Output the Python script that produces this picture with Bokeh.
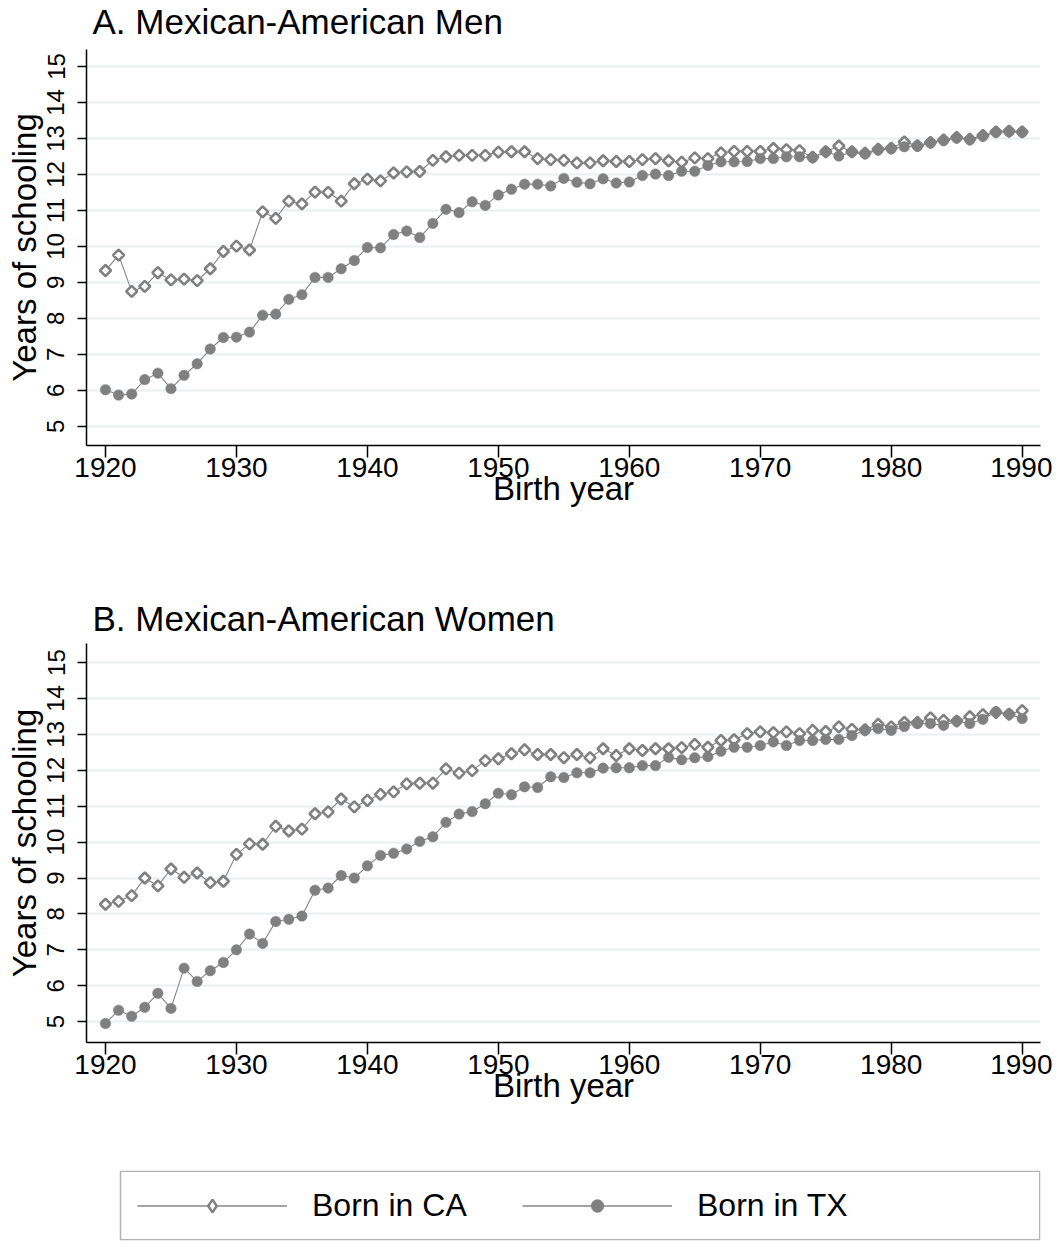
import math
from bokeh.plotting import figure
from bokeh.models import (Range1d, FixedTicker, Legend, LegendItem, ColumnDataSource,
                          BoxAnnotation, Label)
from bokeh.layouts import column
from bokeh.embed import file_html
from bokeh.resources import INLINE

# ---------------- data ----------------
years = list(range(1920, 1991))

men_ca = [9.33, 9.76, 8.75, 8.89, 9.27, 9.07, 9.09, 9.05, 9.38, 9.86,
          10.01, 9.90, 10.96, 10.78, 11.26, 11.18, 11.51, 11.50, 11.26, 11.74,
          11.87, 11.82, 12.04, 12.07, 12.08, 12.39, 12.49, 12.53, 12.53, 12.53,
          12.62, 12.63, 12.63, 12.44, 12.41, 12.39, 12.32, 12.32, 12.38, 12.36,
          12.36, 12.41, 12.44, 12.38, 12.34, 12.46, 12.44, 12.60, 12.64, 12.64,
          12.64, 12.72, 12.69, 12.66, 12.48, 12.63, 12.79, 12.63, 12.59, 12.70,
          12.73, 12.90, 12.80, 12.89, 12.96, 13.03, 12.98, 13.08, 13.18, 13.20,
          13.18]

men_tx = [6.02, 5.87, 5.90, 6.30, 6.48, 6.05, 6.42, 6.74, 7.15, 7.47,
          7.48, 7.62, 8.09, 8.12, 8.53, 8.66, 9.14, 9.14, 9.38, 9.61,
          9.97, 9.96, 10.33, 10.43, 10.25, 10.64, 11.03, 10.94, 11.24, 11.14,
          11.43, 11.59, 11.73, 11.73, 11.68, 11.89, 11.78, 11.74, 11.88, 11.76,
          11.79, 11.97, 12.01, 11.97, 12.09, 12.09, 12.25, 12.35, 12.35, 12.36,
          12.44, 12.44, 12.49, 12.49, 12.46, 12.63, 12.51, 12.62, 12.57, 12.68,
          12.71, 12.77, 12.78, 12.87, 12.94, 13.01, 12.96, 13.06, 13.17, 13.19,
          13.17]

women_ca = [8.27, 8.35, 8.51, 9.00, 8.78, 9.25, 9.02, 9.14, 8.87, 8.91,
            9.66, 9.95, 9.94, 10.44, 10.31, 10.36, 10.79, 10.84, 11.20, 10.98,
            11.16, 11.33, 11.40, 11.62, 11.64, 11.64, 12.04, 11.92, 11.99, 12.27,
            12.32, 12.46, 12.57, 12.44, 12.44, 12.35, 12.44, 12.35, 12.60, 12.41,
            12.60, 12.55, 12.60, 12.60, 12.63, 12.72, 12.64, 12.83, 12.85, 13.02,
            13.07, 13.05, 13.07, 13.02, 13.11, 13.08, 13.21, 13.14, 13.13, 13.28,
            13.21, 13.33, 13.33, 13.46, 13.39, 13.37, 13.49, 13.55, 13.61, 13.56,
            13.66]

women_tx = [4.95, 5.32, 5.15, 5.40, 5.79, 5.37, 6.49, 6.12, 6.42, 6.65,
            7.00, 7.44, 7.18, 7.79, 7.85, 7.94, 8.66, 8.72, 9.07, 9.00,
            9.34, 9.63, 9.69, 9.81, 10.02, 10.15, 10.55, 10.78, 10.85, 11.07,
            11.36, 11.32, 11.54, 11.52, 11.82, 11.80, 11.93, 11.93, 12.06, 12.07,
            12.07, 12.13, 12.13, 12.36, 12.29, 12.35, 12.38, 12.53, 12.64, 12.64,
            12.69, 12.79, 12.69, 12.83, 12.83, 12.86, 12.86, 12.97, 13.11, 13.16,
            13.11, 13.22, 13.30, 13.30, 13.25, 13.37, 13.30, 13.42, 13.63, 13.56,
            13.44]

x_ticks = [1920, 1930, 1940, 1950, 1960, 1970, 1980, 1990]
y_ticks = [5, 6, 7, 8, 9, 10, 11, 12, 13, 14, 15]
series_labels = ["Born in CA", "Born in TX"]
panel_titles = ["A. Mexican-American Men", "B. Mexican-American Women"]
x_label = "Birth year"
y_label = "Years of schooling"

# ---------------- style ----------------
FONT = "Liberation Sans"
MARK = "#808080"
LINEC = "#858585"
GRID = "#e8eff1"
W = 1052
BL, BR = 86, 12
FRAME_W = W - BL - BR


def title_strip(text, height, mid_from_bottom):
    t = figure(width=W, height=height, output_backend="svg", toolbar_location=None,
               title=None, x_range=Range1d(0, 1), y_range=Range1d(0, 1),
               x_axis_type=None, y_axis_type=None,
               min_border_left=BL, min_border_right=BR, min_border_top=0, min_border_bottom=0)
    t.outline_line_color = None
    t.add_layout(Label(x=6, y=mid_from_bottom, x_units="screen", y_units="screen",
                       text=text, text_font=FONT, text_font_size="35px",
                       text_color="black", text_baseline="middle", text_align="left"))
    return t


def styled_series(p, x, ca, tx):
    p.line(x, ca, line_color=LINEC, line_width=1.1)
    p.scatter(x, ca, marker="square", angle=math.pi / 4, size=7.8,
              fill_color="white", line_color=MARK, line_width=2.6)
    p.line(x, tx, line_color=LINEC, line_width=1.1)
    p.scatter(x, tx, marker="circle", size=10.5,
              fill_color=MARK, line_color=MARK, line_width=0.5)


def panel(ca, tx, height, bottom, y0, y1):
    p = figure(width=W, height=height, output_backend="svg", toolbar_location=None,
               title=None,
               x_range=Range1d(1918.55, 1991.4), y_range=Range1d(y0, y1),
               min_border_left=BL, min_border_right=BR,
               min_border_top=0, min_border_bottom=bottom)
    p.outline_line_color = None
    p.background_fill_color = "white"

    p.xaxis.ticker = FixedTicker(ticks=x_ticks)
    p.yaxis.ticker = FixedTicker(ticks=y_ticks)
    for ax in (p.xaxis, p.yaxis):
        ax.axis_line_color = "black"
        ax.axis_line_width = 1.5
        ax.major_tick_line_color = "black"
        ax.major_tick_line_width = 1.5
        ax.major_tick_in = 0
        ax.minor_tick_out = 0
        ax.minor_tick_in = 0
        ax.major_label_text_font = FONT
        ax.major_label_text_color = "black"
        ax.axis_label_text_font = FONT
        ax.axis_label_text_font_style = "normal"
        ax.axis_label_text_font_size = "33px"
        ax.axis_label_text_color = "black"
    p.xaxis.major_tick_out = 12
    p.xaxis.major_label_text_font_size = "28px"
    p.xaxis.major_label_standoff = 0
    p.xaxis.axis_label_standoff = -10
    p.yaxis.major_tick_out = 9
    p.yaxis.major_label_text_font_size = "24px"
    p.yaxis.major_label_orientation = "vertical"
    p.yaxis.major_label_standoff = 13
    p.yaxis.axis_label_standoff = 2
    p.xaxis.axis_label = x_label
    p.yaxis.axis_label = y_label

    p.xgrid.visible = False
    p.ygrid.grid_line_color = GRID
    p.ygrid.grid_line_width = 2

    styled_series(p, years, ca, tx)
    return p


t1 = title_strip(panel_titles[0], 49, 28)
p1 = panel(men_ca, men_tx, 509, 113, 4.47, 15.47)
t2 = title_strip(panel_titles[1], 85, 25)
p2 = panel(women_ca, women_tx, 476, 77, 4.42, 15.53)

# ---------------- legend ----------------
LEG_H = 70
leg = figure(width=W, height=122, output_backend="svg", toolbar_location=None,
             title=None,
             x_range=Range1d(0, FRAME_W), y_range=Range1d(0, LEG_H),
             x_axis_type=None, y_axis_type=None,
             min_border_left=BL, min_border_right=BR, min_border_top=51, min_border_bottom=1)
leg.outline_line_color = None
leg.add_layout(BoxAnnotation(left=34, right=FRAME_W - 0.75, bottom=0.75, top=LEG_H - 0.75,
                             fill_color=None, line_color="black", line_width=1.5))
nan_src = ColumnDataSource(dict(x=[float("nan")], y=[float("nan")]))
l1 = leg.line("x", "y", source=nan_src, line_color=LINEC, line_width=1.3)
m1 = leg.scatter("x", "y", source=nan_src, marker="diamond", size=12,
                 fill_color="white", line_color=MARK, line_width=2.4)
l2 = leg.line("x", "y", source=nan_src, line_color=LINEC, line_width=1.3)
m2 = leg.scatter("x", "y", source=nan_src, marker="circle", size=12,
                 fill_color=MARK, line_color=MARK, line_width=0.5)
legend = Legend(items=[LegendItem(label=series_labels[0], renderers=[l1, m1]),
                       LegendItem(label=series_labels[1], renderers=[l2, m2])],
                orientation="horizontal", location="left",
                border_line_color=None, background_fill_alpha=0,
                glyph_width=150, glyph_height=32, label_standoff=25,
                label_width=210, spacing=0, padding=17, margin=51,
                label_text_font=FONT, label_text_font_size="32px",
                label_text_color="black")
leg.add_layout(legend)

layout = column(t1, p1, t2, p2, leg, spacing=0)
open("out.html", "w").write(file_html(layout, INLINE))
